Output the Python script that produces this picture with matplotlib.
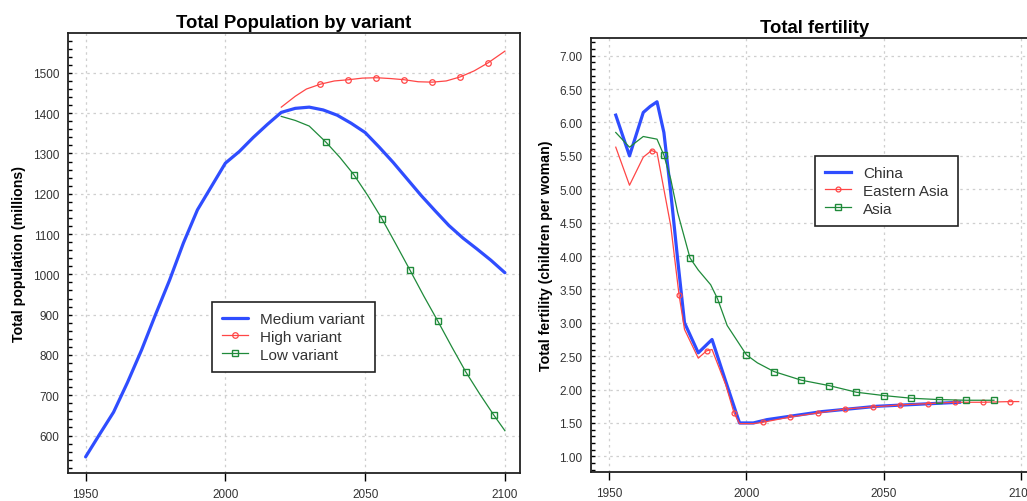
import matplotlib
matplotlib.use("Agg")
import matplotlib.pyplot as plt
from matplotlib.ticker import MultipleLocator, FormatStrFormatter

plt.rcParams['font.family'] = ['Liberation Sans', 'DejaVu Sans']

# ---------------- Data: Total population (millions) ----------------
med_years = [1950, 1955, 1960, 1965, 1970, 1975, 1980, 1985, 1990, 1995, 2000,
             2005, 2010, 2015, 2020, 2025, 2030, 2035, 2040, 2045, 2050, 2055,
             2060, 2065, 2070, 2075, 2080, 2085, 2090, 2095, 2100]
med_pop = [547, 603, 658, 732, 812, 900, 985, 1078, 1160, 1218, 1276,
           1305, 1340, 1372, 1402, 1412, 1415, 1408, 1395, 1375, 1352, 1316,
           1278, 1237, 1196, 1158, 1121, 1090, 1063, 1035, 1004]

high_years = [2020, 2025, 2029, 2034, 2039, 2044, 2049, 2054, 2059, 2064, 2069,
              2074, 2079, 2084, 2089, 2094, 2100]
high_pop = [1415, 1442, 1460, 1472, 1480, 1483, 1487, 1488, 1486, 1483, 1478,
            1477, 1480, 1490, 1505, 1525, 1554]
high_marks = [3, 5, 7, 9, 11, 13, 15]

low_years = [2020, 2025, 2030, 2036, 2041, 2046, 2051, 2056, 2061, 2066, 2071,
             2076, 2081, 2086, 2091, 2096, 2100]
low_pop = [1392, 1382, 1368, 1328, 1290, 1247, 1195, 1138, 1075, 1011, 946,
           884, 820, 758, 703, 651, 612]
low_marks = [3, 5, 7, 9, 11, 13, 15]

pop_labels = ["Medium variant", "High variant", "Low variant"]

# ---------------- Data: Total fertility (children per woman) ----------------
china_years = [1952.5, 1957.5, 1962.5, 1965, 1967.5, 1970, 1972.5, 1975, 1977.5,
               1982.5, 1987.5, 1992.5, 1997.5, 2002.5, 2007.5, 2012.5, 2017.5,
               2022.5, 2027.5, 2032.5, 2037.5, 2042.5, 2047.5, 2052.5, 2057.5,
               2062.5, 2067.5, 2072.5, 2077.5]
china_tfr = [6.11, 5.50, 6.15, 6.24, 6.31, 5.85, 4.95, 3.95, 3.00,
             2.55, 2.75, 2.12, 1.50, 1.50, 1.55, 1.58, 1.61,
             1.64, 1.67, 1.69, 1.71, 1.73, 1.75, 1.76, 1.77,
             1.78, 1.79, 1.80, 1.81]

easia_years = [1952.5, 1957.5, 1962.5, 1965.5, 1967.5, 1972.5, 1975.5, 1977.5,
               1982.5, 1985.5, 1987.5, 1992.5, 1995.5, 1997.5, 2002.5, 2006,
               2016, 2026, 2036, 2046, 2056, 2066, 2076, 2086, 2096, 2099]
easia_tfr = [5.63, 5.06, 5.48, 5.58, 5.55, 4.45, 3.42, 2.90,
             2.47, 2.58, 2.60, 2.07, 1.65, 1.49, 1.49, 1.51,
             1.59, 1.65, 1.71, 1.74, 1.77, 1.79, 1.81, 1.81, 1.82, 1.82]
easia_marks = [3, 6, 9, 12, 15, 16, 17, 18, 19, 20, 21, 22, 23, 24]

asia_years = [1952.5, 1957.5, 1962.5, 1967.5, 1970, 1972.5, 1975, 1979.5, 1982.5,
              1987, 1989.5, 1993, 2000, 2004, 2010, 2020, 2030, 2040, 2050,
              2060, 2070, 2080, 2090]
asia_tfr = [5.85, 5.63, 5.79, 5.75, 5.51, 5.15, 4.65, 3.97, 3.79,
            3.57, 3.36, 2.96, 2.52, 2.40, 2.27, 2.14, 2.06, 1.96, 1.91,
            1.87, 1.85, 1.84, 1.84]
asia_marks = [4, 7, 10, 12, 14, 15, 16, 17, 18, 19, 20, 21, 22]

tfr_labels = ["China", "Eastern Asia", "Asia"]

BLUE = "#2f4dff"
RED = "#ff4646"
GREEN = "#1f8a3a"

W, H = 1027, 502
fig = plt.figure(figsize=(W / 100, H / 100), dpi=100)


def style_axes(ax):
    for s in ax.spines.values():
        s.set_linewidth(1.3)
        s.set_color("#222222")
    ax.grid(True, which="major", color="#cfcfcf", linestyle=(0, (2, 3)), linewidth=0.9)
    ax.set_axisbelow(True)
    ax.tick_params(axis="x", which="major", direction="out", length=6, width=1.0,
                   pad=5, labelsize=8.5, labelcolor="#333333")
    ax.tick_params(axis="x", which="minor", length=0)
    ax.tick_params(axis="y", which="both", direction="in", length=3, width=1.0,
                   pad=6, labelsize=8.5, labelcolor="#333333")


def style_legend(leg):
    leg.get_frame().set_linewidth(1.2)
    for t in leg.get_texts():
        t.set_color("#333333")


# ---------- Left panel ----------
ax1 = fig.add_axes([68 / W, 1 - 474 / H, (520 - 68) / W, (474 - 34) / H])
l1, = ax1.plot(med_years, med_pop, color=BLUE, lw=2.3, solid_capstyle="round")
l2, = ax1.plot(high_years, high_pop, color=RED, lw=0.9, marker="o", markersize=4,
               markerfacecolor="none", markeredgewidth=0.9, markevery=high_marks)
l3, = ax1.plot(low_years, low_pop, color=GREEN, lw=0.9, marker="s", markersize=4.5,
               markerfacecolor="none", markeredgewidth=1.0, markevery=low_marks)
ax1.set_xlim(1943.7, 2105.4)
ax1.set_ylim(507, 1599)
ax1.xaxis.set_major_locator(MultipleLocator(50))
ax1.yaxis.set_major_locator(MultipleLocator(100))
ax1.yaxis.set_minor_locator(MultipleLocator(20))
style_axes(ax1)
ax1.set_title("Total Population by variant", fontsize=13.3, fontweight="bold", pad=4)
ax1.set_ylabel("Total population (millions)", fontsize=10.2, fontweight="bold", labelpad=5)
leg1 = ax1.legend([l1, l2, l3], pop_labels, loc="upper left",
                  bbox_to_anchor=(212 / W, 1 - 303 / H), bbox_transform=fig.transFigure,
                  fontsize=11, frameon=True, fancybox=False, edgecolor="#222222",
                  framealpha=1, borderaxespad=0, borderpad=0.65, labelspacing=0.25,
                  handlelength=1.7, handletextpad=0.8)
style_legend(leg1)

# ---------- Right panel ----------
ax2 = fig.add_axes([591 / W, 1 - 472.7 / H, (1030 - 591) / W, (472.7 - 39) / H])
c1, = ax2.plot(china_years, china_tfr, color=BLUE, lw=2.3)
c2, = ax2.plot(easia_years, easia_tfr, color=RED, lw=0.9, marker="o", markersize=3.5,
               markerfacecolor="none", markeredgewidth=0.9, markevery=easia_marks)
c3, = ax2.plot(asia_years, asia_tfr, color=GREEN, lw=0.9, marker="s", markersize=4.5,
               markerfacecolor="none", markeredgewidth=1.0, markevery=asia_marks)
ax2.set_xlim(1943.5, 2103.1)
ax2.set_ylim(0.77, 7.265)
ax2.xaxis.set_major_locator(MultipleLocator(50))
ax2.yaxis.set_major_locator(MultipleLocator(0.5))
ax2.yaxis.set_minor_locator(MultipleLocator(0.1))
ax2.yaxis.set_major_formatter(FormatStrFormatter("%.2f"))
style_axes(ax2)
ax2.set_title("Total fertility", fontsize=13.3, fontweight="bold", pad=4,
              x=(815 - 591) / (1030 - 591))
ax2.set_ylabel("Total fertility (children per woman)", fontsize=10.2, fontweight="bold",
               labelpad=5)
leg2 = ax2.legend([c1, c2, c3], tfr_labels, loc="upper left",
                  bbox_to_anchor=(815 / W, 1 - 157 / H), bbox_transform=fig.transFigure,
                  fontsize=11, frameon=True, fancybox=False, edgecolor="#222222",
                  framealpha=1, borderaxespad=0, borderpad=0.65, labelspacing=0.25,
                  handlelength=1.7, handletextpad=0.8)
style_legend(leg2)

fig.savefig("out.png", dpi=100)
